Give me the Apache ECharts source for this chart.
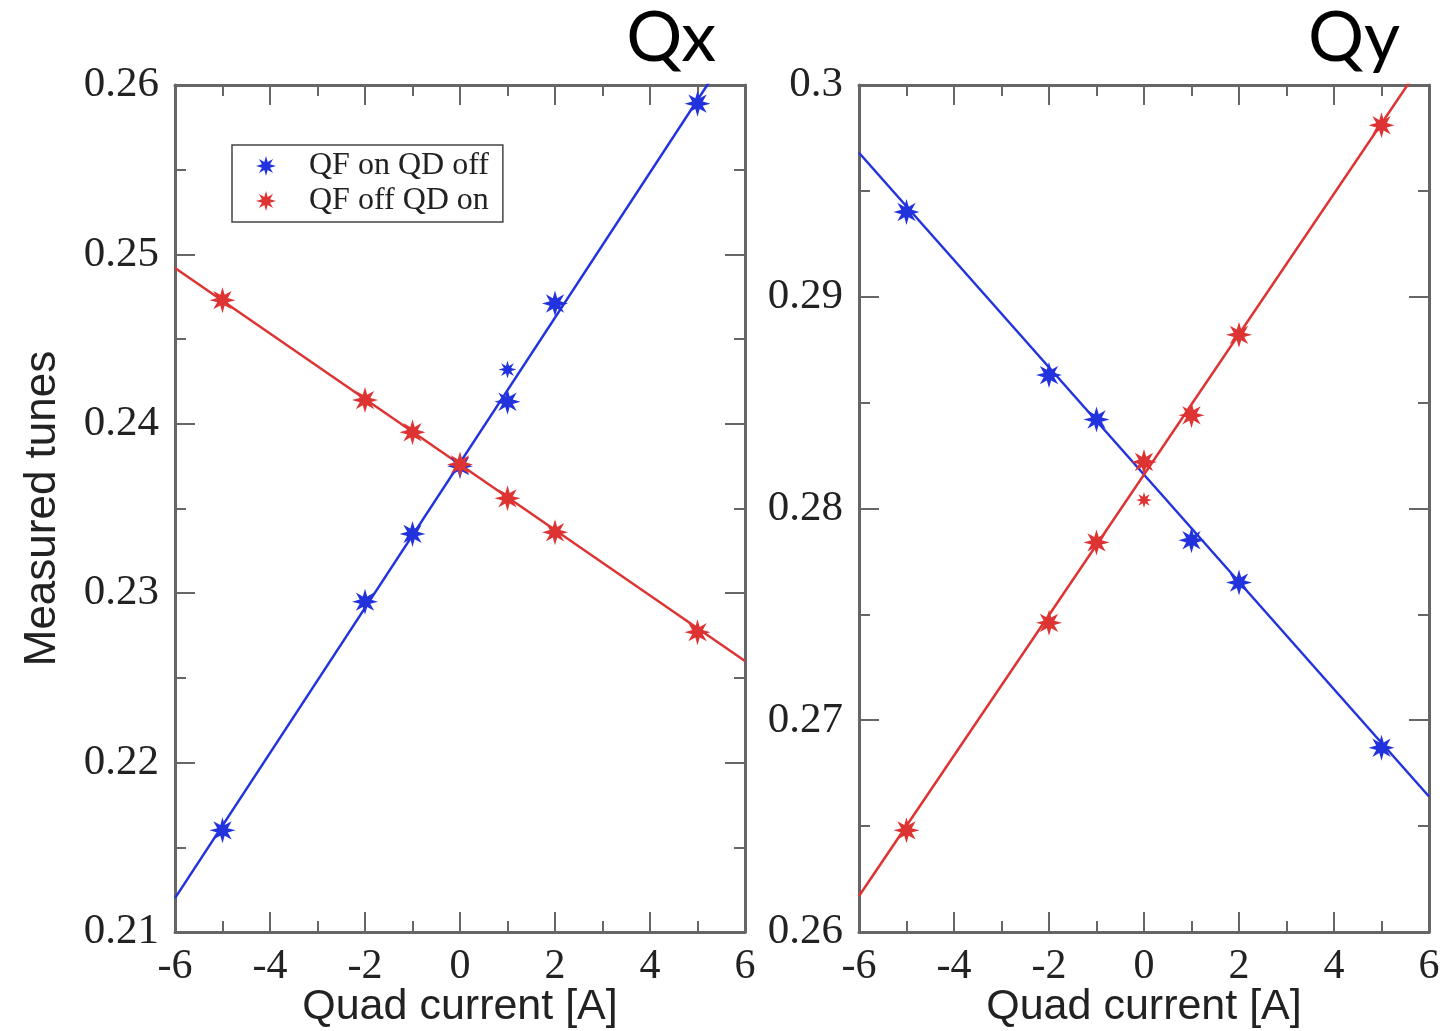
<!DOCTYPE html>
<html>
<head>
<meta charset="utf-8">
<script src="https://cdn.jsdelivr.net/npm/echarts@6/dist/echarts.min.js"></script>
<style>
  html, body { margin: 0; padding: 0; background: #fff; }
  #chart { width: 1443px; height: 1031px; }
</style>
</head>
<body>
<div id="chart"></div>
<script>
// measured points, quad current [A] vs tune
const qxOnCurrent = [-5, -2, -1, 0, 1, 2, 5];
const qxOnTune = [0.2160, 0.2295, 0.2335, 0.2375, 0.2413, 0.2471, 0.2589];
const qxOffCurrent = [-5, -2, -1, 0, 1, 2, 5];
const qxOffTune = [0.2473, 0.2414, 0.2395, 0.2376, 0.2356, 0.2336, 0.2277];
const qxOnExtra = [[1, 0.2432]];

const qyOnCurrent = [-5, -2, -1, 1, 2, 5];
const qyOnTune = [0.2940, 0.2863, 0.2842, 0.2785, 0.2765, 0.2687];
const qyOffCurrent = [-5, -2, -1, 0, 1, 2, 5];
const qyOffTune = [0.2648, 0.2746, 0.2784, 0.2822, 0.2844, 0.2882, 0.2981];
const qyOffExtra = [[0, 0.2804]];

// fitted lines, values at -6 A and +6 A
const fitEnds = [-6, 6];
const qxOnFit = [0.2120, 0.2634];
const qxOffFit = [0.2492, 0.2260];
const qyOnFit = [0.2968, 0.2664];
const qyOffFit = [0.2617, 0.3015];

const xTickLabels = ['-6', '-4', '-2', '0', '2', '4', '6'];

const BLUE = '#2233dd';
const RED = '#dd3333';
const AXIS = '#666';
const SERIF = '"Liberation Serif", "DejaVu Serif", serif';
const SANS = '"Liberation Sans", Arial, sans-serif';

// 8 point star burst like the xmgrace asterisk
function starPath() {
    let p = '';
    for (let i = 0; i < 16; i++) {
        const a = Math.PI / 2 + i * Math.PI / 8;
        const r = i % 2 === 0 ? 50 : 22;
        const x = (50 + r * Math.cos(a)).toFixed(2);
        const y = (50 - r * Math.sin(a)).toFixed(2);
        p += (i === 0 ? 'M' : 'L') + x + ' ' + y + ' ';
    }
    return 'path://' + p + 'Z';
}
const STAR = starPath();

const zip = (xs, ys) => xs.map((x, i) => [x, ys[i]]);

function xAxisFor(gridIndex, pos) {
    return {
        type: 'value', gridIndex: gridIndex, position: pos,
        min: -6, max: 6, interval: 2,
        axisLine: { show: true, onZero: false, lineStyle: { color: AXIS, width: 3 } },
        axisTick: { show: true, inside: true, length: 20, lineStyle: { color: AXIS, width: 2 } },
        minorTick: { show: true, splitNumber: 2, length: 11, lineStyle: { color: AXIS, width: 2 } },
        splitLine: { show: false },
        axisLabel: {
            show: pos === 'bottom', margin: 14, fontSize: 42, fontFamily: SERIF, color: '#222',
            formatter: (v) => xTickLabels[xTickLabels.indexOf(String(v))] || String(v)
        },
        name: pos === 'bottom' ? 'Quad current [A]' : '',
        nameLocation: 'middle', nameGap: 54, nameMoveOverlap: false,
        nameTextStyle: { fontSize: 43, fontFamily: SANS, color: '#222' }
    };
}

function yAxisFor(gridIndex, pos, min, max, name) {
    return {
        type: 'value', gridIndex: gridIndex, position: pos,
        min: min, max: max, interval: 0.01,
        axisLine: { show: true, onZero: false, lineStyle: { color: AXIS, width: 3 } },
        axisTick: { show: true, inside: true, length: 20, lineStyle: { color: AXIS, width: 2 } },
        minorTick: { show: true, splitNumber: 2, length: 11, lineStyle: { color: AXIS, width: 2 } },
        splitLine: { show: false },
        axisLabel: { show: pos === 'left', margin: 16, fontSize: 43, fontFamily: SERIF, color: '#222' },
        name: name, nameLocation: 'middle', nameGap: 110,
        nameTextStyle: { fontSize: 44, fontFamily: SANS, color: '#222' }
    };
}

function pts(name, data, color, xi, yi, size) {
    return {
        name: name, type: 'scatter', xAxisIndex: xi, yAxisIndex: yi,
        data: data, symbol: STAR, symbolSize: size,
        itemStyle: { color: color, opacity: 1 }, z: 3
    };
}

function fit(name, vals, color, xi, yi) {
    return {
        name: name, type: 'line', xAxisIndex: xi, yAxisIndex: yi,
        data: zip(fitEnds, vals), showSymbol: false, clip: true,
        lineStyle: { color: color, width: 2.5 }, itemStyle: { color: color },
        z: 2, silent: true
    };
}

const chart = echarts.init(document.getElementById('chart'));
const option = {
    animation: false,
    backgroundColor: '#fff',
    title: [
        { text: 'Qx', right: 722, top: -2, textStyle: { fontSize: 70, fontWeight: 'normal', fontFamily: 'Lato, "Noto Sans", sans-serif', color: '#000' } },
        { text: 'Qy', right: 38, top: -2, textStyle: { fontSize: 70, fontWeight: 'normal', fontFamily: 'Lato, "Noto Sans", sans-serif', color: '#000' } }
    ],
    legend: {
        data: [
            { name: 'QF on QD off', icon: STAR, itemStyle: { color: BLUE } },
            { name: 'QF off QD on', icon: STAR, itemStyle: { color: RED } }
        ],
        orient: 'vertical', left: 232, top: 145,
        padding: [5, 14, 5, 24], itemGap: 3,
        itemWidth: 20, itemHeight: 20,
        borderColor: '#444', borderWidth: 1.5, backgroundColor: '#fff',
        textStyle: { fontSize: 32, fontFamily: SERIF, color: '#222', padding: [0, 0, 0, 28] }
    },
    grid: [
        { left: 175, top: 85, width: 570, height: 847, outerBoundsMode: 'none' },
        { left: 859, top: 85, width: 570, height: 847, outerBoundsMode: 'none' }
    ],
    xAxis: [xAxisFor(0, 'bottom'), xAxisFor(0, 'top'), xAxisFor(1, 'bottom'), xAxisFor(1, 'top')],
    yAxis: [
        yAxisFor(0, 'left', 0.21, 0.26, 'Measured tunes'),
        yAxisFor(0, 'right', 0.21, 0.26, ''),
        yAxisFor(1, 'left', 0.26, 0.30, ''),
        yAxisFor(1, 'right', 0.26, 0.30, '')
    ],
    series: [
        fit('QF on QD off', qxOnFit, BLUE, 0, 0),
        fit('QF off QD on', qxOffFit, RED, 0, 0),
        pts('QF on QD off', zip(qxOnCurrent, qxOnTune), BLUE, 0, 0, 26),
        pts('QF on QD off', qxOnExtra, BLUE, 0, 0, 18),
        pts('QF off QD on', zip(qxOffCurrent, qxOffTune), RED, 0, 0, 26),

        fit('QF on QD off', qyOnFit, BLUE, 2, 2),
        fit('QF off QD on', qyOffFit, RED, 2, 2),
        pts('QF on QD off', zip(qyOnCurrent, qyOnTune), BLUE, 2, 2, 26),
        pts('QF off QD on', zip(qyOffCurrent, qyOffTune), RED, 2, 2, 26),
        pts('QF off QD on', qyOffExtra, RED, 2, 2, 16)
    ]
};
chart.setOption(option);
</script>
</body>
</html>
